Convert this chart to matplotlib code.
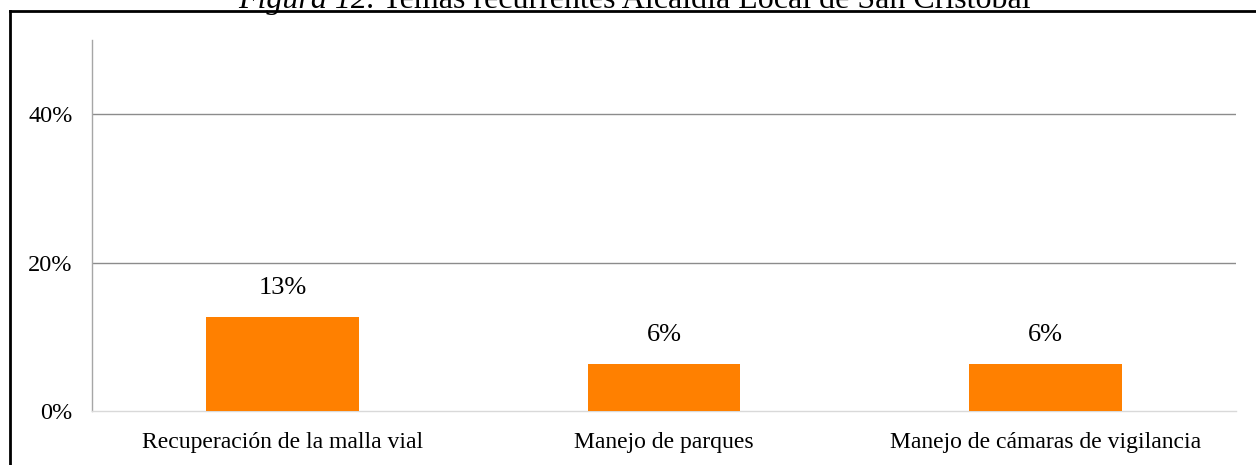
import matplotlib
matplotlib.use("Agg")
import matplotlib.pyplot as plt
from matplotlib.lines import Line2D

categories = ["Recuperación de la malla vial", "Manejo de parques", "Manejo de cámaras de vigilancia"]
values = [0.127, 0.063, 0.063]
value_labels = ["13%", "6%", "6%"]
yticks = [0.0, 0.2, 0.4]
ytick_labels = ["0%", "20%", "40%"]

plt.rcParams['font.family'] = ['Liberation Serif', 'DejaVu Serif']

fig = plt.figure(figsize=(12.56, 4.65), dpi=100)
W, H = 1256, 465
ax = fig.add_axes([92 / W, 54 / H, (1236 - 92) / W, (411 - 40) / H])

x = list(range(len(categories)))
ax.bar(x, values, width=0.4, color="#FF8000", zorder=3)
ax.set_xlim(-0.5, len(categories) - 0.5)
ax.set_ylim(0, 0.5)
ax.set_yticks(yticks)
ax.set_yticklabels(ytick_labels, fontsize=17.5)
ax.set_xticks(x)
ax.set_xticklabels(categories, fontsize=17)
ax.tick_params(axis='both', length=0, colors='black')
ax.tick_params(axis='y', pad=14)
ax.tick_params(axis='x', pad=15)

for yv in yticks[1:]:
    ax.axhline(yv, color="#8c8c8c", lw=1.0, zorder=1)

for s in ["top", "right"]:
    ax.spines[s].set_visible(False)
ax.spines["left"].set_color("#a6a6a6")
ax.spines["left"].set_linewidth(1.0)
ax.spines["bottom"].set_color("#d9d9d9")
ax.spines["bottom"].set_linewidth(1.0)

for xi, v, lab in zip(x, values, value_labels):
    ax.annotate(lab, (xi, v), xytext=(0, 13), textcoords="offset points",
                ha="center", va="bottom", fontsize=19)

# frame lines
fig.add_artist(Line2D([10 / W, 1.0], [1 - 11.5 / H, 1 - 11.5 / H], color="black", lw=2.0,
                      transform=fig.transFigure))
fig.add_artist(Line2D([10 / W, 10 / W], [0, 1 - 11.5 / H], color="black", lw=2.0,
                      transform=fig.transFigure))

# title (partially clipped at top)
t1 = fig.text(0, 1 - 8 / H, "Figura 12.", fontsize=23, style="italic", ha="left", va="baseline")
fig.canvas.draw()
r = fig.canvas.get_renderer()
t2 = fig.text(0, 1 - 8 / H, " Temas recurrentes Alcaldía Local de San Cristóbal", fontsize=23,
              ha="left", va="baseline")
w1 = t1.get_window_extent(r).width
w2 = t2.get_window_extent(r).width
start = 634 - (w1 + w2) / 2
t1.set_x(start / W)
t2.set_x((start + w1) / W)

fig.savefig("out.png", dpi=100)
